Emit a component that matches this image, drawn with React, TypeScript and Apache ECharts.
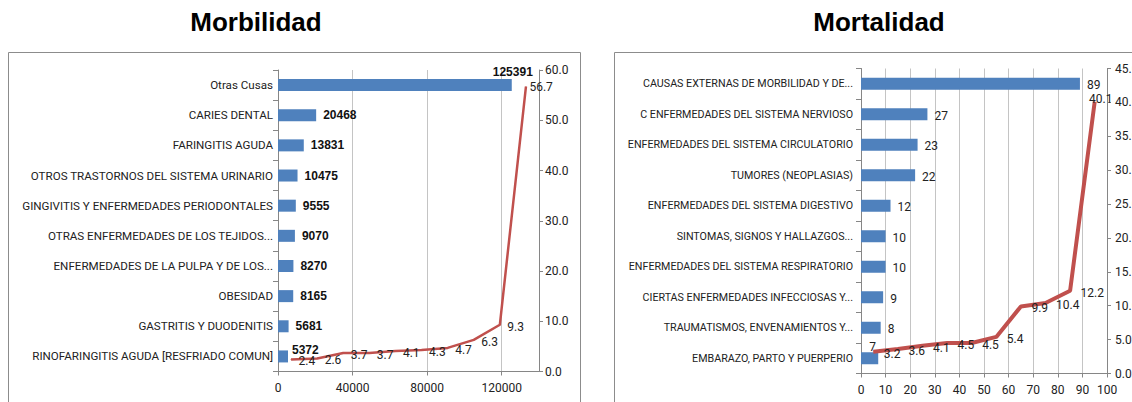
import React, { useEffect, useRef } from "react";
import * as echarts from "echarts";

// ---------- DATA ----------
const morbCategories = [
  "RINOFARINGITIS AGUDA [RESFRIADO COMUN]",
  "GASTRITIS Y DUODENITIS",
  "OBESIDAD",
  "ENFERMEDADES DE LA PULPA Y DE LOS...",
  "OTRAS ENFERMEDADES DE LOS TEJIDOS...",
  "GINGIVITIS Y ENFERMEDADES PERIODONTALES",
  "OTROS TRASTORNOS DEL SISTEMA URINARIO",
  "FARINGITIS AGUDA",
  "CARIES DENTAL",
  "Otras Cusas",
];
const morbCounts = [5372, 5681, 8165, 8270, 9070, 9555, 10475, 13831, 20468, 125391];
const morbPercent = [2.4, 2.6, 3.7, 3.7, 4.1, 4.3, 4.7, 6.3, 9.3, 56.7];

const mortCategories = [
  "EMBARAZO, PARTO Y PUERPERIO",
  "TRAUMATISMOS, ENVENAMIENTOS Y...",
  "CIERTAS ENFERMEDADES INFECCIOSAS Y...",
  "ENFERMEDADES DEL SISTEMA RESPIRATORIO",
  "SINTOMAS, SIGNOS Y HALLAZGOS...",
  "ENFERMEDADES DEL SISTEMA DIGESTIVO",
  "TUMORES (NEOPLASIAS)",
  "ENFERMEDADES DEL SISTEMA CIRCULATORIO",
  "C ENFERMEDADES DEL SISTEMA NERVIOSO",
  "CAUSAS EXTERNAS DE MORBILIDAD Y DE...",
];
const mortCounts = [7, 8, 9, 10, 10, 12, 22, 23, 27, 89];
const mortPercent = [3.2, 3.6, 4.1, 4.5, 4.5, 5.4, 9.9, 10.4, 12.2, 40.1];

const titles = ["Morbilidad", "Mortalidad"];

// ---------- STYLE ----------
const CAT_FONT = "Roboto, 'Liberation Sans', sans-serif";
const NUM_FONT = "Roboto, 'Liberation Sans', sans-serif";
const SANS = "'Liberation Sans', Arial, sans-serif";
const TEXT = "#222222";
const AXIS = "#868686";
const GRIDLINE = "#C4C4C4";
const BAR = "#4F81BD";
const LINE = "#C0504D";

function App() {
  const ref = useRef<HTMLDivElement>(null);

  useEffect(() => {
    if (!ref.current) return;
    const chart = echarts.init(ref.current, undefined, { renderer: "svg" });

    const axisLine = { show: true, lineStyle: { color: AXIS, width: 1 } };
    const axisTick = (len: number) => ({ show: true, length: len, lineStyle: { color: AXIS } });
    const numLabel = (extra: any = {}) => ({
      fontFamily: NUM_FONT,
      fontSize: 12,
      color: TEXT,
      ...extra,
    });

    const option: any = {
      animation: false,
      backgroundColor: "#ffffff",
      graphic: [
        {
          type: "rect",
          z: -10,
          shape: { x: 8.5, y: 52.5, width: 572, height: 400 },
          style: { fill: "none", stroke: "#8C8C8C", lineWidth: 1 },
        },
        {
          type: "rect",
          z: -10,
          shape: { x: 614.5, y: 52.5, width: 600, height: 400 },
          style: { fill: "none", stroke: "#8C8C8C", lineWidth: 1 },
        },
        {
          type: "text",
          x: 256,
          y: 22,
          style: {
            text: titles[0],
            align: "center",
            verticalAlign: "middle",
            fontFamily: SANS,
            fontWeight: "bold",
            fontSize: 26,
            fill: "#000",
          },
        },
        {
          type: "text",
          x: 879,
          y: 22,
          style: {
            text: titles[1],
            align: "center",
            verticalAlign: "middle",
            fontFamily: SANS,
            fontWeight: "bold",
            fontSize: 26,
            fill: "#000",
          },
        },
      ],
      grid: [
        { left: 278, top: 70, width: 261, height: 301.5, outerBoundsMode: "none", containLabel: false },
        { left: 861, top: 68.5, width: 246, height: 305, outerBoundsMode: "none", containLabel: false },
      ],
      xAxis: [
        {
          type: "value",
          gridIndex: 0,
          min: 0,
          max: 140000,
          interval: 40000,
          axisLine,
          axisTick: axisTick(4),
          axisLabel: numLabel({ showMaxLabel: false, margin: 10, formatter: (v: number) => String(v) }),
          splitLine: { show: true, lineStyle: { color: GRIDLINE, width: 1 } },
        },
        {
          type: "category",
          gridIndex: 0,
          data: morbCategories,
          boundaryGap: true,
          show: false,
        },
        {
          type: "value",
          gridIndex: 1,
          min: 0,
          max: 100,
          interval: 10,
          axisLine,
          axisTick: axisTick(4),
          axisLabel: numLabel({ margin: 10, showMaxLabel: true, formatter: (v: number) => String(v) }),
          splitLine: { show: true, lineStyle: { color: GRIDLINE, width: 1 } },
        },
        {
          type: "category",
          gridIndex: 1,
          data: mortCategories,
          boundaryGap: true,
          show: false,
        },
      ],
      yAxis: [
        {
          type: "category",
          gridIndex: 0,
          data: morbCategories,
          axisLine,
          axisTick: axisTick(5),
          axisLabel: { fontFamily: CAT_FONT, fontSize: 11.6, color: TEXT, margin: 5 },
          splitLine: { show: false },
        },
        {
          type: "value",
          gridIndex: 0,
          position: "right",
          min: 0,
          max: 60,
          interval: 10,
          axisLine,
          axisTick: axisTick(4),
          axisLabel: numLabel({ margin: 6, formatter: (v: number) => v.toFixed(1) }),
          splitLine: { show: false },
        },
        {
          type: "category",
          gridIndex: 1,
          data: mortCategories,
          axisLine,
          axisTick: axisTick(5),
          axisLabel: { fontFamily: CAT_FONT, fontSize: 10.7, color: TEXT, margin: 8 },
          splitLine: { show: false },
        },
        {
          type: "value",
          gridIndex: 1,
          position: "right",
          min: 0,
          max: 45,
          interval: 5,
          axisLine,
          axisTick: axisTick(4),
          axisLabel: numLabel({ margin: 8, formatter: (v: number) => v.toFixed(1) }),
          splitLine: { show: false },
        },
      ],
      series: [
        {
          type: "bar",
          xAxisIndex: 0,
          yAxisIndex: 0,
          barWidth: 12,
          itemStyle: { color: BAR },
          label: {
            show: true,
            position: "right",
            distance: 7,
            fontFamily: SANS,
            fontWeight: "bold",
            fontSize: 12,
            color: "#111",
          },
          data: morbCounts.map((v, i) => {
            if (i === morbCounts.length - 1) return { value: v, label: { offset: [-26, -13] } };
            if (i === 0) return { value: v, label: { offset: [-3, -6.5] } };
            return v;
          }),
        },
        {
          type: "line",
          xAxisIndex: 1,
          yAxisIndex: 1,
          symbol: "circle",
          symbolSize: 1,
          itemStyle: { color: LINE },
          lineStyle: { color: LINE, width: 2.5 },
          label: {
            show: true,
            position: "right",
            distance: 7,
            offset: [0, 2],
            fontFamily: NUM_FONT,
            fontSize: 12,
            color: TEXT,
            formatter: (p: any) => Number(p.value).toFixed(1),
          },
          data: morbPercent.map((v, i) =>
            i === morbPercent.length - 1 ? { value: v, label: { distance: 3, offset: [0, 0] } } : v
          ),
        },
        {
          type: "bar",
          xAxisIndex: 2,
          yAxisIndex: 2,
          barWidth: 12,
          itemStyle: { color: BAR },
          label: {
            show: true,
            position: "right",
            distance: 7,
            offset: [0, 1.5],
            fontFamily: NUM_FONT,
            fontSize: 12,
            color: TEXT,
          },
          data: mortCounts.map((v, i) =>
            i === 0 ? { value: v, label: { offset: [-16, -11] } } : v
          ),
        },
        {
          type: "line",
          xAxisIndex: 3,
          yAxisIndex: 3,
          symbol: "circle",
          symbolSize: 1,
          itemStyle: { color: LINE },
          lineStyle: { color: LINE, width: 4 },
          label: {
            show: true,
            position: "right",
            distance: 10,
            offset: [0, 2],
            fontFamily: NUM_FONT,
            fontSize: 12,
            color: TEXT,
            formatter: (p: any) => Number(p.value).toFixed(1),
          },
          data: mortPercent.map((v, i) =>
            i === mortPercent.length - 1
              ? { value: v, label: { position: "inside", offset: [6, -3] } }
              : v
          ),
        },
      ],
    };

    chart.setOption(option);
    return () => chart.dispose();
  }, []);

  return (
    <div
      ref={ref}
      style={{ position: "fixed", left: 0, top: 0, width: 1132, height: 402, background: "#fff" }}
    />
  );
}

export default App;
